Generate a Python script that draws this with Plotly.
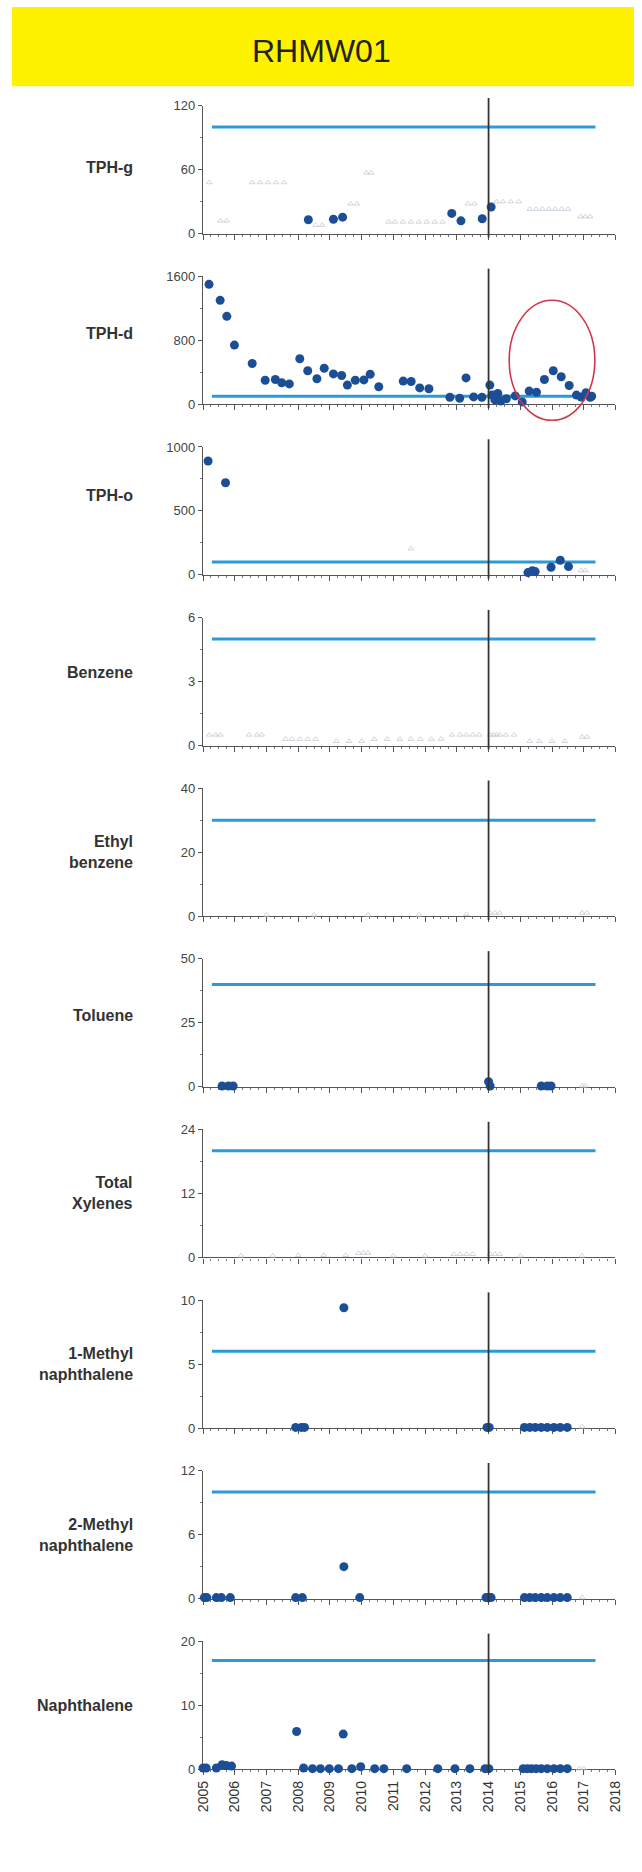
import plotly.graph_objects as go

# ---------------- chart text and scales ----------------
well_id = "RHMW01"
analytes = ["TPH-g", "TPH-d", "TPH-o", "Benzene", "Ethyl<br>benzene", "Toluene",
            "Total<br>Xylenes", "1-Methyl<br>naphthalene", "2-Methyl<br>naphthalene",
            "Naphthalene"]
axis_max = [120, 1600, 1000, 6, 40, 50, 24, 10, 12, 20]
axis_step = [60, 800, 500, 3, 20, 25, 12, 5, 6, 10]
action_level = [100, 100, 100, 5, 30, 40, 20, 6, 10, 17]
action_span = [2005.28, 2017.37]
marker_year = 2014
years = list(range(2005, 2019))

# ---------------- detected results (decimal year, concentration) ----------------
tphg_t = [2008.32, 2009.11, 2009.40, 2012.84, 2013.13, 2013.80, 2014.08]
tphg_v = [13, 13.5, 15.5, 19, 12, 14, 25]

tphd_t = [2005.19, 2005.54, 2005.75, 2005.99, 2006.55, 2006.96, 2007.28, 2007.48, 2007.72,
          2008.05, 2008.30, 2008.59, 2008.82, 2009.11, 2009.37, 2009.55, 2009.80, 2010.07,
          2010.27, 2010.54, 2011.31, 2011.56, 2011.83, 2012.12, 2012.78, 2013.09, 2013.29,
          2013.53, 2013.79, 2014.04, 2014.11, 2014.20, 2014.29, 2014.39, 2014.56, 2014.84,
          2015.06, 2015.28, 2015.51, 2015.76, 2016.04, 2016.29, 2016.54, 2016.77, 2016.92,
          2017.07, 2017.20, 2017.25]
tphd_v = [1500, 1300, 1100, 740, 510, 300, 310, 270, 255,
          570, 420, 320, 450, 380, 360, 240, 300, 305,
          375, 220, 290, 285, 205, 195, 88, 75, 330,
          92, 88, 240, 115, 55, 135, 40, 70, 105,
          30, 165, 150, 310, 420, 345, 235, 115, 90,
          145, 88, 100]

tpho_t = [2005.16, 2005.71, 2015.24, 2015.38, 2015.47, 2015.97, 2016.26, 2016.52]
tpho_v = [890, 720, 18, 33, 26, 60, 115, 65]

benz_t, benz_v = [], []
ethb_t, ethb_v = [], []

tolu_t = [2005.60, 2005.80, 2005.95, 2014.00, 2014.05, 2015.66, 2015.85, 2015.97]
tolu_v = [0.3, 0.3, 0.3, 2.0, 0.3, 0.3, 0.3, 0.3]

xyl_t, xyl_v = [], []

mn1_t = [2007.92, 2008.10, 2008.20, 2009.44, 2013.95, 2014.02, 2015.13, 2015.30, 2015.47,
         2015.66, 2015.85, 2016.06, 2016.26, 2016.48]
mn1_v = [0.05, 0.05, 0.05, 9.4, 0.05, 0.05, 0.05, 0.05, 0.05,
         0.05, 0.05, 0.05, 0.05, 0.05]

mn2_t = [2005.04, 2005.12, 2005.42, 2005.58, 2005.86, 2007.92, 2008.13, 2009.44, 2009.94,
         2013.92, 2014.00, 2014.08, 2015.13, 2015.30, 2015.47, 2015.66, 2015.85, 2016.06,
         2016.26, 2016.48]
mn2_v = [0.1, 0.1, 0.1, 0.1, 0.1, 0.1, 0.1, 3.0, 0.1,
         0.1, 0.1, 0.1, 0.1, 0.1, 0.1, 0.1, 0.1, 0.1,
         0.1, 0.1]

naph_t = [2005.00, 2005.10, 2005.42, 2005.60, 2005.73, 2005.90, 2007.95, 2008.17, 2008.45,
          2008.70, 2008.98, 2009.27, 2009.42, 2009.69, 2009.97, 2010.41, 2010.70, 2011.42,
          2012.40, 2012.94, 2013.41, 2013.89, 2014.01, 2015.09, 2015.22, 2015.35, 2015.50,
          2015.66, 2015.85, 2016.06, 2016.26, 2016.48]
naph_v = [0.2, 0.2, 0.2, 0.7, 0.6, 0.5, 5.9, 0.2, 0.1,
          0.1, 0.1, 0.1, 5.5, 0.1, 0.4, 0.1, 0.1, 0.1,
          0.1, 0.1, 0.1, 0.1, 0.1, 0.1, 0.1, 0.1, 0.1,
          0.1, 0.1, 0.1, 0.1, 0.1]

# ---------------- non-detect reporting limits (decimal year, limit) ----------------
tphg_nd_t = [2005.20, 2005.55, 2005.75, 2006.55, 2006.80, 2007.05, 2007.30, 2007.55, 2008.55,
             2008.75, 2009.65, 2009.85, 2010.15, 2010.30, 2010.85, 2011.05, 2011.30, 2011.55,
             2011.80, 2012.05, 2012.30, 2012.55, 2013.35, 2013.55, 2014.25, 2014.45, 2014.70,
             2014.95, 2015.30, 2015.50, 2015.70, 2015.90, 2016.10, 2016.30, 2016.50, 2016.90,
             2017.05, 2017.20]
tphg_nd_v = [48, 12, 12, 48, 48, 48, 48, 48, 8,
             8, 28, 28, 57, 57, 11, 11, 11, 11,
             11, 11, 11, 11, 28, 28, 30, 30, 30,
             30, 23, 23, 23, 23, 23, 23, 23, 16,
             16, 16]
tphd_nd_t, tphd_nd_v = [], []
tpho_nd_t = [2011.55, 2016.92, 2017.05]
tpho_nd_v = [205, 35, 35]
benz_nd_t = [2005.20, 2005.40, 2005.55, 2006.45, 2006.70, 2006.85, 2007.60, 2007.80, 2008.05,
             2008.30, 2008.55, 2009.20, 2009.60, 2010.00, 2010.40, 2010.80, 2011.20, 2011.55,
             2011.85, 2012.20, 2012.50, 2012.85, 2013.10, 2013.30, 2013.50, 2013.70, 2014.05,
             2014.15, 2014.25, 2014.35, 2014.55, 2014.80, 2015.30, 2015.60, 2016.00, 2016.40,
             2016.95, 2017.10]
benz_nd_v = [0.5, 0.5, 0.5, 0.5, 0.5, 0.5, 0.3, 0.3, 0.3,
             0.3, 0.3, 0.2, 0.2, 0.2, 0.3, 0.3, 0.3, 0.3,
             0.3, 0.3, 0.3, 0.5, 0.5, 0.5, 0.5, 0.5, 0.5,
             0.5, 0.5, 0.5, 0.5, 0.5, 0.2, 0.2, 0.2, 0.2,
             0.4, 0.4]
ethb_nd_t = [2007.00, 2008.50, 2010.20, 2011.80, 2013.30, 2014.05, 2014.20, 2014.35, 2016.95,
             2017.10]
ethb_nd_v = [0.4, 0.4, 0.4, 0.4, 0.6, 1.0, 1.0, 1.0, 1.0, 1.0]
tolu_nd_t = [2016.95, 2017.05]
tolu_nd_v = [0.4, 0.4]
xyl_nd_t = [2006.20, 2007.20, 2008.00, 2008.80, 2009.50, 2009.90, 2010.05, 2010.20, 2011.00,
            2012.00, 2012.90, 2013.10, 2013.30, 2013.50, 2014.05, 2014.20, 2014.35, 2015.00,
            2016.95]
xyl_nd_v = [0.3, 0.3, 0.4, 0.4, 0.4, 0.8, 0.8, 0.8, 0.3,
            0.3, 0.6, 0.6, 0.6, 0.6, 0.6, 0.6, 0.6, 0.3,
            0.3]
mn1_nd_t, mn1_nd_v = [2016.95], [0.1]
mn2_nd_t, mn2_nd_v = [2016.95], [0.1]
naph_nd_t, naph_nd_v = [2016.86, 2017.00], [0.1, 0.1]

detected = [(tphg_t, tphg_v), (tphd_t, tphd_v), (tpho_t, tpho_v), (benz_t, benz_v),
            (ethb_t, ethb_v), (tolu_t, tolu_v), (xyl_t, xyl_v), (mn1_t, mn1_v),
            (mn2_t, mn2_v), (naph_t, naph_v)]
nondetect = [(tphg_nd_t, tphg_nd_v), (tphd_nd_t, tphd_nd_v), (tpho_nd_t, tpho_nd_v),
             (benz_nd_t, benz_nd_v), (ethb_nd_t, ethb_nd_v), (tolu_nd_t, tolu_nd_v),
             (xyl_nd_t, xyl_nd_v), (mn1_nd_t, mn1_nd_v), (mn2_nd_t, mn2_nd_v),
             (naph_nd_t, naph_nd_v)]

# highlighted TPH-d rebound (years, concentration bounds of the ring)
ring_years = [2014.65, 2017.35]
ring_conc = [-200, 1300]

# ---------------- page geometry ----------------
FIG_W, FIG_H = 642, 1872
PLOT_LEFT, PLOT_RIGHT = 200, 623
FIRST_ZERO, PANEL_PITCH, PANEL_H = 228.5, 172, 129
LABEL_RIGHT = 130
label_pos = [0.52, 0.55, 0.62, 0.57, 0.5, 0.56, 0.5, 0.5, 0.5, 0.5]

FONT = "Arial, 'Liberation Sans', Helvetica, sans-serif"
DOT = "#1c4e96"
LIMIT = "#2a9bd6"
AXIS = "#555555"

fig = go.Figure()
shapes, annotations = [], []

for i in range(len(analytes)):
    n = "" if i == 0 else str(i + 1)
    xa, ya = "x" + n, "y" + n
    zero = FIRST_ZERO + PANEL_PITCH * i
    ydom = [1 - zero / FIG_H, 1 - (zero - PANEL_H) / FIG_H]
    step = axis_step[i]

    fig.update_layout({
        "xaxis" + n: dict(
            domain=[PLOT_LEFT / FIG_W, PLOT_RIGHT / FIG_W], anchor=ya,
            range=[2005, 2018], showgrid=False, zeroline=False,
            showline=True, linecolor=AXIS, linewidth=1.3, layer="below traces",
            tickmode="array", tickvals=years, ticktext=[str(y) for y in years],
            ticks="outside", ticklen=5, tickwidth=1.2, tickcolor=AXIS,
            minor=dict(tickmode="linear", tick0=2005, dtick=0.25, ticks="outside",
                       ticklen=2, tickwidth=1, tickcolor="#777777"),
            showticklabels=(i == len(analytes) - 1), tickangle=-90,
            tickfont=dict(family=FONT, size=14, color="#333333"),
        ),
        "yaxis" + n: dict(
            domain=ydom, anchor=xa, range=[0, axis_max[i]],
            showgrid=False, zeroline=False,
            showline=True, linecolor=AXIS, linewidth=1.3, layer="below traces",
            tickmode="array", tickvals=[0, step, 2 * step],
            ticks="outside", ticklen=4, tickwidth=1.2, tickcolor=AXIS,
            minor=dict(tickmode="linear", tick0=0, dtick=step / 2, ticks="outside",
                       ticklen=2, tickwidth=1, tickcolor="#777777"),
            tickfont=dict(family=FONT, size=13, color="#444444"),
        ),
    })

    nd_t, nd_v = nondetect[i]
    if nd_t:
        fig.add_trace(go.Scatter(
            x=nd_t, y=nd_v, mode="markers", xaxis=xa, yaxis=ya, cliponaxis=False,
            marker=dict(symbol="triangle-up-open", size=5, color="#c3cad6",
                        line=dict(width=0.8)),
            hoverinfo="skip"))

    fig.add_trace(go.Scatter(
        x=action_span, y=[action_level[i]] * 2, mode="lines", xaxis=xa, yaxis=ya,
        line=dict(color=LIMIT, width=3), hoverinfo="skip"))

    d_t, d_v = detected[i]
    if d_t:
        fig.add_trace(go.Scatter(
            x=d_t, y=d_v, mode="markers", xaxis=xa, yaxis=ya, cliponaxis=False,
            marker=dict(symbol="circle", size=9, color=DOT), hoverinfo="skip"))

    # reference year divider
    shapes.append(dict(type="line", xref=xa, yref=ya + " domain",
                       x0=marker_year, x1=marker_year, y0=-0.03, y1=1.06,
                       line=dict(color="#333333", width=1.8), layer="above"))

    annotations.append(dict(
        xref="paper", yref=ya + " domain", x=LABEL_RIGHT / FIG_W, y=label_pos[i],
        xanchor="right", yanchor="middle", align="right", showarrow=False,
        text="<b>" + analytes[i] + "</b>",
        font=dict(family=FONT, size=16, color="#333333")))

# ring around the TPH-d rebound
shapes.append(dict(type="circle", xref="x2", yref="y2 domain",
                   x0=ring_years[0], x1=ring_years[1],
                   y0=ring_conc[0] / axis_max[1], y1=ring_conc[1] / axis_max[1],
                   line=dict(color="#d0374c", width=1.6), layer="above"))

# title banner
shapes.append(dict(type="rect", xref="paper", yref="paper",
                   x0=4 / FIG_W, x1=1, y0=1 - 80 / FIG_H, y1=1,
                   fillcolor="#FFF200", line=dict(width=0), layer="below"))
annotations.append(dict(xref="paper", yref="paper", x=322 / FIG_W, y=1 - 44 / FIG_H,
                        xanchor="center", yanchor="middle", showarrow=False,
                        text=well_id, font=dict(family=FONT, size=32, color="#222222")))

fig.update_layout(
    width=FIG_W, height=FIG_H, margin=dict(l=0, r=0, t=0, b=0),
    paper_bgcolor="white", plot_bgcolor="white", showlegend=False,
    shapes=shapes, annotations=annotations,
)

fig.write_html("out.html")
